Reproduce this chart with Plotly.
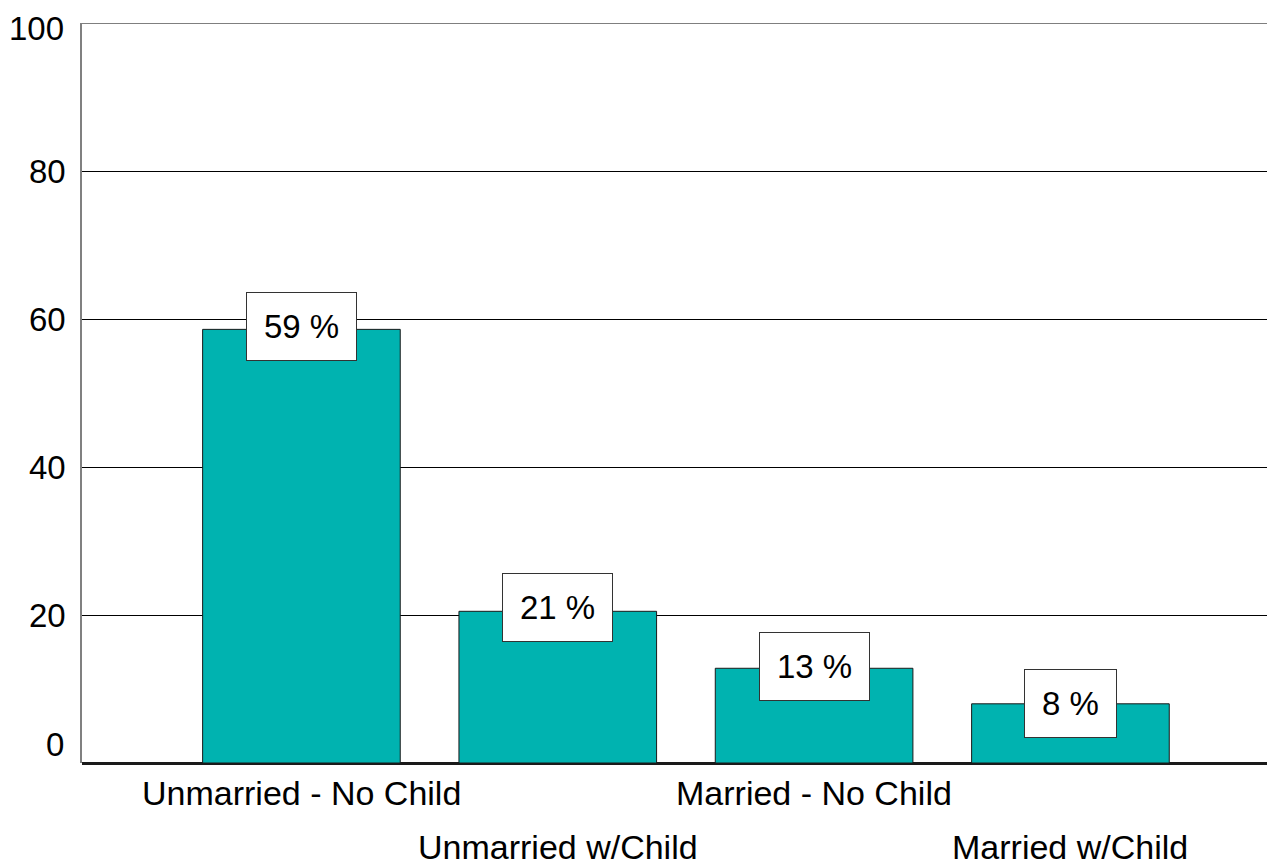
import plotly.graph_objects as go

categories = ["Unmarried - No Child", "Unmarried w/Child", "Married - No Child", "Married w/Child"]
values = [58.6, 20.5, 12.8, 8.0]
labels = ["59", "21", "13", "8"]
y_ticks = [0, 20, 40, 60, 80, 100]

FONT = "Liberation Sans, Arial, sans-serif"
x_pos = list(range(len(categories)))

fig = go.Figure()
fig.add_trace(go.Bar(
    x=x_pos, y=values, width=0.771,
    marker=dict(color="#00B3B0", line=dict(color="#1a1a1a", width=1)),
    hoverinfo="skip",
))

annotations = []
# value boxes
for xi, lab in zip(x_pos, labels):
    annotations.append(dict(
        x=xi, y=float(lab), xref="x", yref="y", text=f"{lab} %", showarrow=False,
        font=dict(family=FONT, size=33, color="black"),
        bgcolor="white", bordercolor="#333333", borderwidth=1, borderpad=17,
        height=33, xanchor="center", yanchor="middle",
    ))
# category labels (staggered)
for i, (xi, cat) in enumerate(zip(x_pos, categories)):
    annotations.append(dict(
        x=xi, y=0, xref="x", yref="y", text=cat, showarrow=False,
        font=dict(family=FONT, size=34, color="black"),
        xanchor="center", yanchor="middle",
        yshift=-29.5 if i % 2 == 0 else -84,
    ))
# end tick labels drawn as annotations (0 raised, 100 at the very top)
annotations.append(dict(
    x=0, y=y_ticks[0], xref="paper", yref="y", text=str(y_ticks[0]), showarrow=False,
    font=dict(family=FONT, size=33, color="black"),
    xanchor="right", yanchor="middle", xshift=-16, yshift=19,
))
annotations.append(dict(
    x=0, y=y_ticks[-1], xref="paper", yref="y", text=str(y_ticks[-1]), showarrow=False,
    font=dict(family=FONT, size=33, color="black"),
    xanchor="right", yanchor="top", xshift=-16, yshift=15,
))

fig.update_layout(
    width=1267, height=857,
    margin=dict(l=74, r=0, t=15, b=102, pad=0),
    paper_bgcolor="white", plot_bgcolor="white",
    showlegend=False,
    annotations=annotations,
    shapes=[dict(type="line", xref="paper", yref="y", x0=0, x1=1,
                 y0=y_ticks[-1], y1=y_ticks[-1], line=dict(color="black", width=1.2))],
    xaxis=dict(range=[-0.856, 3.798], showticklabels=False, showgrid=False,
               zeroline=False, showline=False, ticks=""),
    yaxis=dict(range=[0, 100], tickvals=y_ticks[:-1],
               ticktext=[""] + [str(t) for t in y_ticks[1:-1]],
               tickfont=dict(family=FONT, size=33, color="black"),
               showgrid=True, gridcolor="black", gridwidth=1,
               zeroline=True, zerolinecolor="#1a1a1a", zerolinewidth=2.5,
               showline=True, linecolor="#808080", linewidth=1.5,
               ticks="", ticklabelstandoff=8),
)

fig.write_html("out.html")
